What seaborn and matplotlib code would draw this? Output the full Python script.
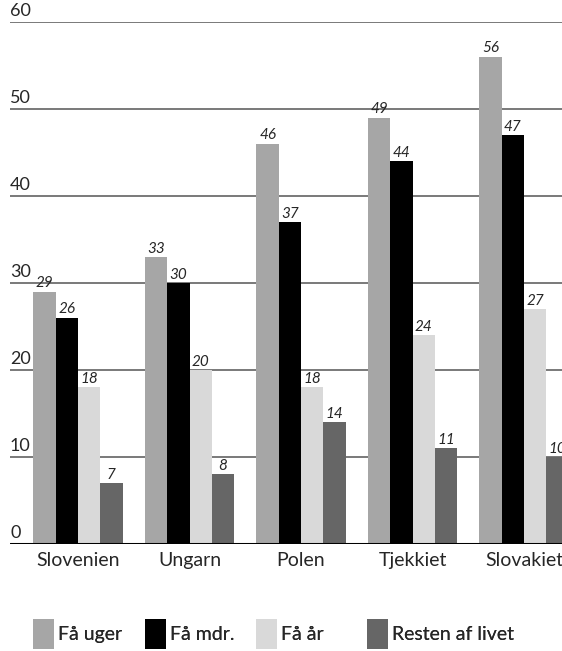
import numpy as np
import pandas as pd
import matplotlib
matplotlib.use('Agg')
import matplotlib.pyplot as plt
import matplotlib.transforms as mtransforms
from matplotlib.patches import Patch
import seaborn as sns

# Data
lande = ['Slovenien', 'Ungarn', 'Polen', 'Tjekkiet', 'Slovakiet']
serier = ['Få uger', 'Få mdr.', 'Få år', 'Resten af livet']
faa_uger = [29, 33, 46, 49, 56]
faa_mdr = [26, 30, 37, 44, 47]
faa_aar = [18, 20, 18, 24, 27]
resten = [7, 8, 14, 11, 10]
y_ticks = [0, 10, 20, 30, 40, 50, 60]

farver = ['#a6a6a6', '#000000', '#d9d9d9', '#666666']

sns.set_style('white')
plt.rcParams['font.family'] = ['Lato', 'DejaVu Sans']

df = pd.DataFrame({
    'land': lande * 4,
    'serie': np.repeat(serier, len(lande)),
    'vaerdi': faa_uger + faa_mdr + faa_aar + resten,
})

fig = plt.figure(figsize=(5.62, 6.51), dpi=100)
ax = fig.add_axes([10 / 562, 107 / 651, 552 / 562, 522 / 651])

sns.barplot(data=df, x='land', y='vaerdi', hue='serie', order=lande, hue_order=serier,
            palette=farver, saturation=1, errorbar=None, width=0.8, ax=ax, legend=False,
            linewidth=0, edgecolor='none')

# gitterlinjer
for v in y_ticks[1:]:
    ax.axhline(v, color='#555555', lw=1.1, zorder=0)
ax.axhline(0, color='black', lw=2.2, zorder=3)

ax.set_ylim(0, 60)
ax.set_xlim(-0.61, 4.34)
ax.set_yticks([])
ax.set_xlabel('')
ax.set_ylabel('')
for s in ax.spines.values():
    s.set_visible(False)
ax.tick_params(axis='x', length=0, pad=6, labelsize=14)

# y-akse tal ovenpå linjerne
trans = mtransforms.blended_transform_factory(ax.transAxes, ax.transData)
for v in y_ticks:
    ax.text(0, v + 0.3, str(v), transform=trans, ha='left', va='bottom',
            fontsize=13, clip_on=False)

for c in ax.containers:
    ax.bar_label(c, fmt='%d', fontstyle='italic', fontsize=11, padding=1)

# signatur, en boks pr. serie
leg_x = [33, 145, 256, 367]
for x, f, s in zip(leg_x, farver, serier):
    leg = fig.legend([Patch(facecolor=f, edgecolor='none')], [s], loc='center left',
                     bbox_to_anchor=(x / 562, 17 / 651), frameon=False, fontsize=14,
                     handlelength=1.1, handleheight=2.0, handletextpad=0.2,
                     borderaxespad=0, borderpad=0)
    fig.add_artist(leg)

fig.savefig('out.png', dpi=100)
